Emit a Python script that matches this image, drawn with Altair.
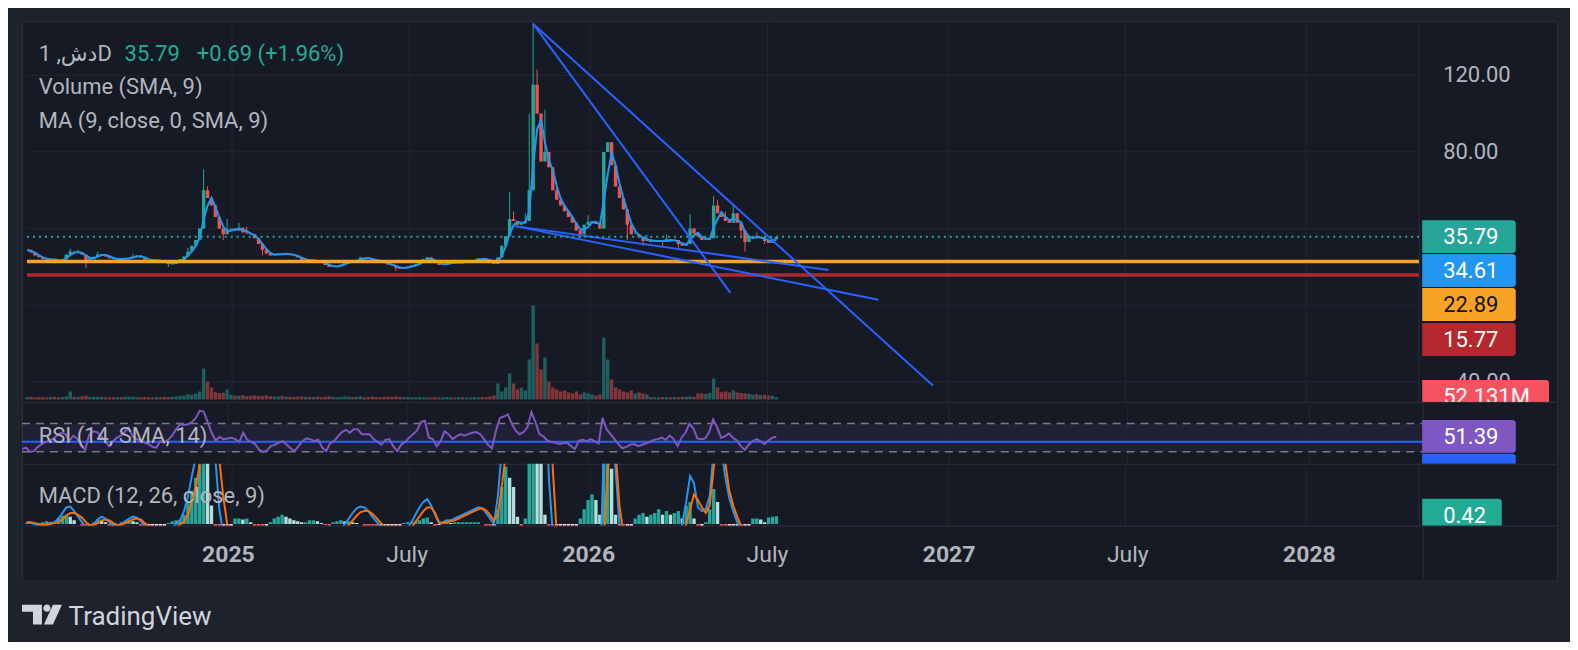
import altair as alt
import pandas as pd

# ---------------- data ----------------
first_day = -209          # days from 2025-01-01 of the first candle
step_days = 4             # one candle every 4 days

close = [
    29, 27.5, 26, 25, 24, 23.8, 24.2, 23.5, 23, 24,
    26.5, 28, 27.5, 27.8, 26.5, 23.5, 24.5, 25.3, 26.5, 26.8,
    25.5, 24.5, 24, 24.3, 24, 24.5, 24.8, 25.5, 26, 25,
    23.8, 23.5, 23.2, 23.6, 23, 22, 21.5, 21.8, 22.8, 24,
    25.5, 28, 31, 34, 40, 60, 56, 52, 46, 40,
    37, 39.5, 40, 39, 40.5, 38, 37.5, 37, 35, 32,
    29, 27, 26, 26.5, 27, 26.5, 27, 26.2, 26, 25,
    23.5, 23.8, 23.2, 23.5, 22.8, 22.5, 21, 20, 20.3, 20.5,
    21.2, 22.5, 23, 22.8, 23.5, 25, 24.8, 24.3, 23.5, 23,
    22.8, 22, 21.2, 20.8, 19.5, 19, 19.8, 20.2, 20.8, 21.3,
    22.5, 24, 25, 23.5, 22, 21, 21.2, 22, 22.5, 22,
    22.8, 22.3, 22.8, 23.2, 23.5, 24.5, 24.3, 23.8, 22, 21.5,
    25, 31, 36, 45, 44, 42, 43, 44, 60, 115,
    100, 75, 80, 72, 60, 55, 52, 49, 46, 43,
    39, 37, 42, 43.5, 44, 42.5, 40, 80, 85, 73,
    62, 56, 50, 42, 37, 37, 35.5, 33.5, 34.5, 33,
    33.5, 34, 33, 34.5, 33.5, 34, 32, 31, 32, 40,
    37.5, 36, 34, 34.5, 35, 52, 48, 46, 44, 43,
    48, 43, 39, 33, 36, 36, 35, 35.5, 33.5, 32.5,
    34.5, 35.79,
]
wick_high = {11: 29.5, 13: 29, 18: 28, 27: 27, 41: 30, 45: 71, 46: 62, 47: 57,
             51: 45, 54: 43, 56: 41, 123: 59, 124: 49, 127: 48, 128: 100,
             129: 147, 130: 123, 131: 90, 132: 102, 134: 66, 135: 62, 143: 47,
             149: 78, 150: 70, 152: 55, 155: 40, 158: 37, 163: 37, 169: 47.5,
             175: 57, 176: 55, 178: 49, 180: 53, 181: 47, 186: 38}
wick_low = {15: 19.5, 36: 20, 50: 34, 60: 26, 94: 18, 141: 35, 153: 34,
            157: 31, 162: 31, 166: 30, 182: 35, 183: 28, 188: 32}

volume_m = [
    60, 70, 50, 60, 55, 50, 60, 70, 55, 60, 75,
    200,
    70, 60, 80, 90, 60, 65, 70, 60, 55,
    50, 60, 55, 60, 65, 70, 75, 60, 55, 60,
    55, 50, 60, 55, 65, 60, 70, 80, 90, 100,
    125, 120, 150, 200,
    775, 450, 300, 180, 160, 170, 250,
    120, 100, 90, 110, 80, 90, 100, 85, 90, 100,
    80, 70, 75, 90, 70, 65, 60, 70, 75, 60,
    65, 60, 70, 55, 65, 80, 60, 55, 60, 75,
    70, 60, 65, 80, 55, 60, 70, 60, 55, 65,
    70, 60, 75, 65, 55, 60, 50, 55, 60, 50,
    45, 50, 55, 45, 50, 60, 50, 45, 55, 50,
    45, 50, 55, 50, 60, 55, 75, 100,
    400, 200, 300, 650, 400, 250, 300, 225,
    1000, 2350, 1400, 750, 1050, 450, 300, 250,
    200, 225, 175, 150, 200, 125, 175, 150, 125, 100, 125,
    1550, 1000, 500, 300,
    250, 200, 175, 225, 150, 175, 150, 125,
    60, 55, 50, 60, 55, 50, 60, 55, 65, 70, 75, 60,
    150, 150, 140, 160,
    525, 300, 180, 200, 175, 225, 175, 160,
    150, 140, 120, 130, 110, 120, 100, 90,
    52.131,
]

rsi = [
    33.8, 36, 30, 31, 37, 41, 44, 46, 49, 54,
    57, 55, 46, 53, 48, 38, 33, 54, 59, 58,
    52, 46, 38, 45, 50, 53, 58, 64, 52, 48,
    45, 43, 41, 37, 36, 45, 43, 47, 53, 62,
    69, 68, 69, 72, 78, 88, 87, 72, 57, 46,
    51, 48, 49, 50, 48, 44, 57, 47, 44, 41,
    33, 30, 32, 38, 40, 43, 45, 40, 35, 31,
    38, 45, 49, 48, 45, 47, 36, 31, 42, 45,
    52, 58, 61, 57, 62, 62, 55, 55, 55, 48,
    44, 40, 47, 48, 38, 31, 40, 44, 50, 55,
    60, 72, 74, 50, 48, 38, 45, 59, 55, 48,
    52, 55, 53, 55, 57, 58, 55, 48, 40, 35,
    60, 78, 80, 83, 70, 60, 55, 58, 65, 86,
    72, 55, 52, 46, 44, 43, 41, 42, 43, 38,
    34, 46, 47, 45, 48, 45, 42, 78, 62, 55,
    48, 41, 35, 37, 40, 41, 38, 40, 42, 44,
    47, 48, 50, 47, 53, 48, 38, 50, 57, 70,
    63, 49, 48, 49, 58, 76, 65, 50, 52, 56,
    50, 46, 38, 33, 40, 45, 48, 45, 41, 46,
    50, 51.39,
]

macd_line = [
    0.1, 0.05, 0.0, -0.1, -0.05, 0.0, 0.05, 0.1, 0.3, 0.6,
    0.9, 0.95, 0.7, 0.4, 0.1, -0.2, -0.2, 0.0, 0.25, 0.4,
    0.3, 0.1, -0.05, -0.1, 0.0, 0.15, 0.3, 0.4, 0.35, 0.15,
    -0.1, -0.2, -0.3, -0.35, -0.4, -0.45, -0.4, -0.2, 0.0, 0.2,
    0.7, 1.5, 2.6, 3.6, 5.0, 7.0, 7.0, 5.5, 3.5, 0.8,
    -0.5, -0.6, -0.8, -1.0, -1.1, -1.2, -1.3, -1.5, -1.8, -2.0,
    -2.3, -2.4, -2.2, -2.0, -1.8, -1.6, -1.4, -1.3, -1.2, -1.2,
    -1.1, -1.0, -0.9, -0.8, -0.8, -0.8, -0.9, -0.9, -0.7, -0.5,
    -0.3, 0.0, 0.3, 0.6, 0.85, 0.95, 0.9, 0.7, 0.4, 0.15,
    -0.1, -0.3, -0.4, -0.5, -0.6, -0.7, -0.5, -0.2, 0.1, 0.5,
    0.9, 1.2, 1.35, 1.0, 0.5, 0.05, 0.1, 0.2, 0.2, 0.3,
    0.4, 0.5, 0.6, 0.7, 0.8, 0.9, 0.85, 0.6, 0.3, 0.0,
    1.5, 4.0, 6.5, 8.0, 8.5, 8.0, 7.5, 8.0, 12.0, 18.0,
    20.0, 16.0, 9.0, 2.5, -0.5, -2.0, -3.5, -4.5, -5.0, -5.3,
    -5.3, -5.0, -4.5, -4.0, -3.5, -3.3, -3.0, 4.0, 6.0, 5.0,
    3.0, 0.0, -1.5, -2.5, -3.0, -3.3, -3.5, -3.4, -3.2, -3.0,
    -2.8, -2.5, -2.2, -2.0, -1.8, -1.5, -1.2, 0.0, 1.2, 2.6,
    2.2, 0.9, 0.7, 0.8, 1.5, 4.0, 5.0, 4.0, 2.5, 1.4,
    0.7, 0.1, -0.3, -0.6, -0.8, -0.9, -1.0, -1.0, -1.0, -0.9,
    -0.8, -0.7,
]
signal_line = [
    0.1, 0.1, 0.05, 0.0, -0.05, -0.05, 0.0, 0.05, 0.1, 0.25,
    0.45, 0.6, 0.6, 0.5, 0.35, 0.1, -0.05, -0.05, 0.05, 0.2,
    0.25, 0.2, 0.05, -0.05, -0.05, 0.05, 0.15, 0.25, 0.3, 0.25,
    0.05, -0.1, -0.2, -0.25, -0.3, -0.35, -0.4, -0.35, -0.2, 0.0,
    0.1, 0.5, 1.2, 2.0, 3.2, 4.6, 5.5, 5.5, 5.0, 3.5,
    1.5, 0.0, -0.6, -0.8, -1.0, -1.1, -1.2, -1.3, -1.5, -1.7,
    -1.9, -2.1, -2.2, -2.1, -2.0, -1.8, -1.6, -1.5, -1.4, -1.3,
    -1.2, -1.1, -1.0, -0.9, -0.85, -0.8, -0.85, -0.85, -0.8, -0.7,
    -0.5, -0.3, -0.05, 0.2, 0.45, 0.65, 0.7, 0.7, 0.55, 0.35,
    0.1, -0.1, -0.25, -0.35, -0.45, -0.55, -0.55, -0.4, -0.2, 0.1,
    0.4, 0.7, 0.9, 0.9, 0.6, 0.1, 0.05, 0.1, 0.15, 0.2,
    0.3, 0.4, 0.5, 0.6, 0.7, 0.8, 0.85, 0.75, 0.5, 0.2,
    0.5, 2.0, 3.8, 5.5, 6.5, 7.0, 7.2, 7.5, 9.0, 12.0,
    15.0, 16.0, 14.0, 8.0, 3.0, -0.5, -2.0, -3.0, -3.8, -4.3,
    -4.6, -4.7, -4.6, -4.3, -4.0, -3.7, -3.4, -1.0, 3.0, 4.5,
    4.0, 1.0, -0.5, -1.5, -2.2, -2.7, -3.0, -3.2, -3.2, -3.1,
    -3.0, -2.8, -2.5, -2.3, -2.1, -1.8, -1.5, -1.0, 0.0, 0.8,
    1.6, 1.3, 0.9, 0.6, 1.0, 3.0, 4.5, 4.5, 3.3, 1.8,
    1.0, 0.4, -0.1, -0.4, -0.6, -0.7, -0.8, -0.9, -0.95, -0.95,
    -0.9, -0.85,
]
macd_hist = [
    0.1, 0.05, 0.0, 0.05, 0.1, 0.15, 0.1, 0.1, 0.3, 0.45,
    0.5, 0.4, 0.2, 0.0, -0.2, -0.3, -0.15, 0.1, 0.25, 0.2,
    0.1, -0.1, -0.1, -0.05, 0.1, 0.15, 0.2, 0.15, 0.1, -0.1,
    -0.15, -0.1, -0.1, -0.1, -0.1, -0.1, 0.05, 0.15, 0.2, 0.25,
    0.5, 1.2, 1.8, 2.5, 3.2, 4.5, 4.0, 1.0, -1.5, -2.5,
    -2.0, -0.6, -0.2, 0.3, 0.3, 0.25, 0.3, 0.1, -0.1, -0.2,
    -0.3, -0.3, 0.1, 0.3, 0.4, 0.5, 0.4, 0.3, 0.2, 0.15,
    0.1, 0.1, 0.2, 0.2, 0.15, 0.05, -0.05, -0.1, 0.1, 0.15,
    0.2, 0.15, 0.15, 0.1, 0.05, 0.0, -0.1, -0.15, -0.2, -0.25,
    -0.2, -0.2, -0.15, -0.1, -0.1, -0.1, 0.05, 0.1, 0.1, 0.15,
    0.2, 0.3, 0.35, 0.1, -0.1, -0.05, 0.05, 0.1, 0.05, 0.1,
    0.1, 0.1, 0.1, 0.1, 0.1, 0.1, 0.0, -0.15, -0.2, -0.2,
    0.8, 2.0, 3.1, 2.5, 2.0, 0.4, -0.3, 0.3, 5.0, 7.0,
    6.0, 3.5, 0.5, -2.0, -3.5, -1.5, -1.5, -1.5, -1.2, -1.0,
    -0.6, 0.3, 0.8, 1.3, 1.6, 1.3, 0.5, 4.0, 4.0, 3.0,
    0.5, -0.5, -0.8, -0.5, -0.2, 0.3, 0.5, 0.6, 0.4, 0.5,
    0.6, 0.8, 0.5, 0.7, 0.5, 0.6, 0.7, 0.3, 1.0, 1.2,
    0.3, -0.3, -0.1, 0.1, 0.8, 1.9, 1.2, -0.3, -0.7, -0.4,
    -0.2, -0.2, -0.3, -0.3, -0.2, 0.3, 0.3, 0.25, 0.1, 0.35,
    0.4, 0.42,
]

tick_days = [0, 181, 365, 546, 730, 911, 1095]
tick_labels = ["2025", "July", "2026", "July", "2027", "July", "2028"]
tick_is_year = [True, False, True, False, True, False, True]

# visible price-scale labels (40.00 and 0.00 sit under the value tags)
price_grid = [120, 80, 40, 0, -40]
price_ticks = [120, 80, -40]
price_tick_labels = ["120.00", "80.00", "\u221240.00"]

trend_id = ["a", "a", "b", "b", "c", "c", "d", "d"]
trend_day = [306.8, 714.5, 306.8, 508.1, 288.6, 608.3, 288.6, 658.9]
trend_price = [146.9, -41.8, 146.9, 6.5, 41.3, 18.4, 41.3, 2.9]

last_close = 35.79
change_abs = 0.69
change_pct = 1.96
ma_last = 34.61
level_orange = 22.89
level_red = 15.77
last_volume_m = 52.131
rsi_last = 51.39
rsi_ma_level = 44.1
hist_last = 0.42

assert len(close) == len(volume_m) == len(rsi) == len(macd_line) == len(signal_line) == len(macd_hist)

# ---------------- styling / layout ----------------
FONT = "Roboto, 'DejaVu Sans', sans-serif"
BG_PAGE = "#1e222d"
BG_CHART = "#161a25"
BORDER = "#2a2e39"
GRID = "#232733"
GRAY = "#b2b5be"
TEAL = "#26a69a"
RED = "#ef5350"

W = 1537
H1, H2, H3, H4, H5 = 381, 62, 62, 55, 60
X_DOM = [-209.1, 1345.8]
SEP = 1210.2
BAR_W = 3.4

xs = alt.Scale(domain=X_DOM, nice=False, zero=False)
ps = alt.Scale(domain=[-50.4, 148.1], nice=False, zero=False)
vs = alt.Scale(domain=[-62, 9462], nice=False, zero=False)
rs = alt.Scale(domain=[13.0, 100.7], nice=False, zero=False)
ms = alt.Scale(domain=[-0.092, 3.26], nice=False, zero=False)


def XQ(f):
    return alt.X(f, type="quantitative", scale=xs, axis=None)


def YQ(f, s):
    return alt.Y(f, type="quantitative", scale=s, axis=None)


# ---------------- table ----------------
n = len(close)
opens = [close[0]] + close[:-1]
rows = []
prev_h = 0.0
for i in range(n):
    o, c = opens[i], close[i]
    up = c >= o
    h = macd_hist[i]
    if h >= 0:
        hcol = "#26a69a" if h >= prev_h else "#b2dfdb"
    else:
        hcol = "#ffcdd2" if h >= prev_h else "#ff5252"
    prev_h = h
    rows.append(dict(
        day=first_day + step_days * i,
        open=o, close=c,
        hi=max(o, c, wick_high.get(i, c)),
        lo=min(o, c, wick_low.get(i, c)),
        ccol=TEAL if up else RED,
        vcol="#1e605f" if up else "#82363a",
        vol=volume_m[i], base=0.0,
        rsi=rsi[i], macd=macd_line[i], signal=signal_line[i], hist=h, hcol=hcol,
    ))
df = pd.DataFrame(rows)
df["ma"] = df["close"].rolling(3, min_periods=1).mean()

ONE = pd.DataFrame({"k": [0]})
ticks_df = pd.DataFrame({"d": tick_days, "lab": tick_labels, "yr": tick_is_year})
sep_df = pd.DataFrame({"d": [SEP]})


def vgrid():
    return alt.Chart(ticks_df).mark_rule(color=GRID, strokeWidth=1).encode(x=XQ("d"))


def sep():
    return alt.Chart(sep_df).mark_rule(color=BORDER, strokeWidth=1).encode(x=XQ("d"))


def hline(values, scale, color, width, dash=None):
    d = pd.DataFrame({"p": values, "x0": X_DOM[0], "x1": SEP})
    kw = dict(color=color, strokeWidth=width)
    if dash:
        kw["strokeDash"] = dash
    return alt.Chart(d).mark_rule(**kw).encode(y=YQ("p", scale), x=XQ("x0"), x2="x1:Q")


def text(s, x, y, color=GRAY, size=22, baseline="alphabetic", weight="normal", clip=False, align="left"):
    return alt.Chart(pd.DataFrame({"t": [s]})).mark_text(
        align=align, baseline=baseline, font=FONT, fontSize=size, color=color,
        fontWeight=weight, clip=clip
    ).encode(x=alt.value(x), y=alt.value(y), text="t:N")


def tag(s, y0, y1, color, txt_color="#ffffff", x1=1495.7):
    box = alt.Chart(ONE).mark_rect(
        color=color, cornerRadiusTopRight=3, cornerRadiusBottomRight=3, clip=True
    ).encode(x=alt.value(1402), x2=alt.value(x1), y=alt.value(y0), y2=alt.value(y1))
    layers = [box]
    if s:
        layers.append(text(s, 1423, (y0 + y1) / 2 + 0.5, color=txt_color, baseline="middle", clip=True))
    return layers


# ---------------- panel 1: price + volume ----------------
base = alt.Chart(df)
grid_h = hline(price_grid, ps, GRID, 1)
volume = base.mark_bar(width=BAR_W, clip=True).encode(
    x=XQ("day"), y=YQ("vol", vs), y2="base:Q", color=alt.Color("vcol:N", scale=None))
wick = base.mark_rule(strokeWidth=1, clip=True).encode(
    x=XQ("day"), y=YQ("lo", ps), y2="hi:Q", color=alt.Color("ccol:N", scale=None))
body = base.mark_bar(width=BAR_W, clip=True).encode(
    x=XQ("day"), y=YQ("open", ps), y2="close:Q", color=alt.Color("ccol:N", scale=None))
ma = base.mark_line(color="#2196f3", strokeWidth=2, clip=True).encode(x=XQ("day"), y=YQ("ma", ps))
orange = hline([level_orange], ps, "#f8a325", 3.5)
redl = hline([level_red], ps, "#b2282e", 3.5)
trend_df = pd.DataFrame({"id": trend_id, "day": trend_day, "price": trend_price})
trend = alt.Chart(trend_df).mark_line(color="#2962ff", strokeWidth=2, clip=True).encode(
    x=XQ("day"), y=YQ("price", ps), detail="id:N")
dotted = hline([last_close], ps, TEAL, 2, dash=[2, 4])
axis_df = pd.DataFrame({"p": price_ticks, "lab": price_tick_labels})
axis_labels = alt.Chart(axis_df).mark_text(
    align="left", baseline="middle", font=FONT, fontSize=22, color=GRAY
).encode(y=YQ("p", ps), x=alt.value(1423), text="lab:N")

headers = [
    text("\u062f\u0634, 1D", 16.7, 39.3),
    text(f"{last_close:.2f}", 102.7, 39.3, color="#22ab94"),
    text(f"+{change_abs:.2f} (+{change_pct:.2f}%)", 175, 39.3, color="#22ab94"),
    text("Volume (SMA, 9)", 16.7, 72.7),
    text("MA (9, close, 0, SMA, 9)", 16.7, 106.7),
]
tags1 = (tag(f"{last_close:.2f}", 199, 232, TEAL)
         + tag(f"{ma_last:.2f}", 233, 266, "#2196f3")
         + tag(f"{level_orange:.2f}", 267, 300, "#f8a325", txt_color="#131722")
         + tag(f"{level_red:.2f}", 302, 335, "#b2282e")
         + tag(f"{last_volume_m:.3f}M", 359, 392, "#f7525f", x1=1529))

p1 = alt.layer(
    grid_h, vgrid(), sep(), volume, wick, body, ma, orange, redl, trend, dotted,
    *headers, axis_labels, *tags1
).resolve_scale(y="independent").properties(
    width=W, height=H1, view=alt.ViewBackground(fill=BG_CHART, stroke=BORDER, strokeWidth=1))

# ---------------- panel 2: RSI ----------------
band_df = pd.DataFrame({"lo": [30], "hi": [70], "x0": [X_DOM[0]], "x1": [SEP]})
band = alt.Chart(band_df).mark_rect(color="#7e57c2", opacity=0.1).encode(
    x=XQ("x0"), x2="x1:Q", y=YQ("lo", rs), y2="hi:Q")
rsi_bounds = hline([70, 30], rs, "#787b86", 1.5, dash=[8, 6])
rsi_ma = hline([rsi_ma_level], rs, "#2962ff", 2)
rsi_l = base.mark_line(color="#7e57c2", strokeWidth=2, clip=True).encode(x=XQ("day"), y=YQ("rsi", rs))
tags2 = tag("", 52, 85, "#2962ff") + tag(f"{rsi_last:.2f}", 18, 51, "#7e57c2")
p2 = alt.layer(
    band, vgrid(), sep(), rsi_bounds, rsi_ma, rsi_l,
    text("RSI (14, SMA, 14)", 16.7, 40.7), *tags2
).properties(width=W, height=H2, view=alt.ViewBackground(fill=BG_CHART, stroke=BORDER, strokeWidth=1))

# ---------------- panel 3: MACD ----------------
hist_b = base.mark_bar(width=BAR_W, clip=True).encode(
    x=XQ("day"), y=YQ("hist", ms), y2="base:Q", color=alt.Color("hcol:N", scale=None))
macd_l = base.mark_line(color="#2196f3", strokeWidth=2, clip=True).encode(x=XQ("day"), y=YQ("macd", ms))
sig_l = base.mark_line(color="#ff6d00", strokeWidth=2, clip=True).encode(x=XQ("day"), y=YQ("signal", ms))
tags3 = tag(f"{hist_last:.2f}", 35, 68, "#22ab94", x1=1481.7)
p3 = alt.layer(
    vgrid(), sep(), hist_b, macd_l, sig_l,
    text("MACD (12, 26, close, 9)", 16.7, 39.7), *tags3
).properties(width=W, height=H3, view=alt.ViewBackground(fill=BG_CHART, stroke=BORDER, strokeWidth=1))

# ---------------- panel 4: time axis ----------------
years = alt.Chart(ticks_df[ticks_df["yr"]]).mark_text(
    align="center", baseline="alphabetic", font=FONT, fontSize=23, fontWeight="bold", color=GRAY
).encode(x=XQ("d"), y=alt.value(36.6), text="lab:N")
months = alt.Chart(ticks_df[~ticks_df["yr"]]).mark_text(
    align="center", baseline="alphabetic", font=FONT, fontSize=23, color=GRAY
).encode(x=XQ("d"), y=alt.value(36.6), text="lab:N")
p4 = alt.layer(sep(), years, months).properties(
    width=W, height=H4, view=alt.ViewBackground(fill=BG_CHART, stroke=BORDER, strokeWidth=1))

# ---------------- panel 5: logo ----------------
LOGO = ("M-1,-0.5L0,-0.5L0,0.5L-0.45,0.5L-0.45,-0.15L-1,-0.15Z "
        "M0.07,-0.325A0.18,0.18 0 1,0 0.43,-0.325A0.18,0.18 0 1,0 0.07,-0.325Z "
        "M0.1,0.5L0.55,0.5L1,-0.5L0.55,-0.5Z")
logo = alt.Chart(ONE).mark_point(
    shape=LOGO, filled=True, size=1600, color="#d1d4dc", opacity=1, strokeWidth=0
).encode(x=alt.value(20), y=alt.value(34))
p5 = alt.layer(logo, text("TradingView", 46.7, 44, color="#d1d4dc", size=26)).properties(
    width=W, height=H5)

chart = alt.vconcat(p1, p2, p3, p4, p5, spacing=0, bounds="flush").resolve_scale(
    y="independent"
).properties(
    padding={"left": 12, "top": 12, "right": 12, "bottom": 0},
    background=BG_PAGE,
    usermeta={"embedOptions": {"defaultStyle": "html,body{background:#1e222d !important;}"}},
).configure_view(stroke="transparent")

chart.save("out.html", embed_options={"renderer": "svg", "actions": False})
